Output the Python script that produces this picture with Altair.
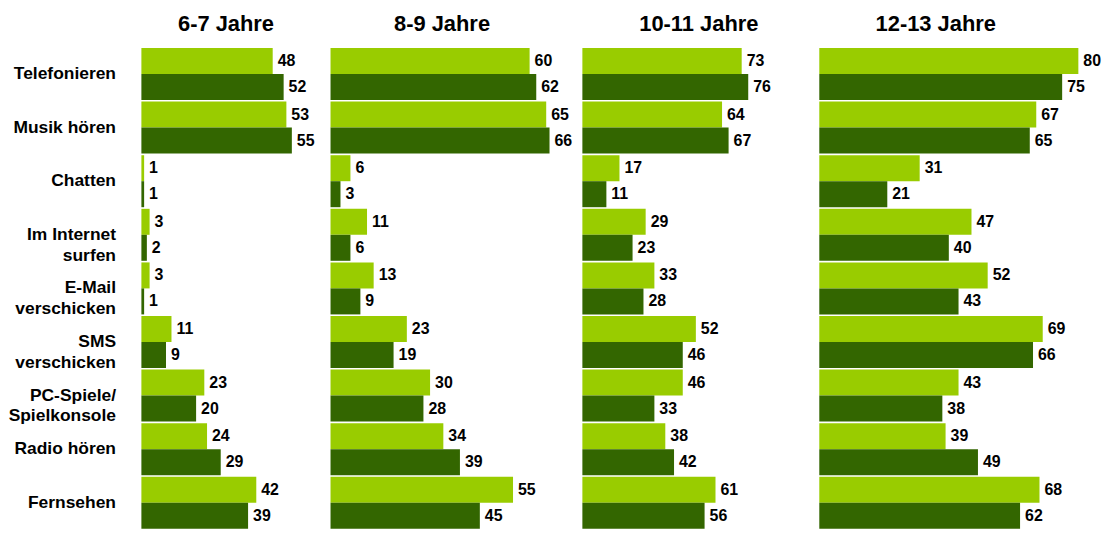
import altair as alt
import pandas as pd

categories = ["Telefonieren", "Musik hören", "Chatten", "Im Internet|surfen",
              "E-Mail|verschicken", "SMS|verschicken", "PC-Spiele/|Spielkonsole",
              "Radio hören", "Fernsehen"]
panels = ["6-7 Jahre", "8-9 Jahre", "10-11 Jahre", "12-13 Jahre"]
series = ["Serie 1", "Serie 2"]
colors = ["#99CC00", "#336600"]

light_6_7 = [48, 53, 1, 3, 3, 11, 23, 24, 42]
dark_6_7 = [52, 55, 1, 2, 1, 9, 20, 29, 39]
light_8_9 = [60, 65, 6, 11, 13, 23, 30, 34, 55]
dark_8_9 = [62, 66, 3, 6, 9, 19, 28, 39, 45]
light_10_11 = [73, 64, 17, 29, 33, 52, 46, 38, 61]
dark_10_11 = [76, 67, 11, 23, 28, 46, 33, 42, 56]
light_12_13 = [80, 67, 31, 47, 52, 69, 43, 39, 68]
dark_12_13 = [75, 65, 21, 40, 43, 66, 38, 49, 62]

panel_values = {
    "6-7 Jahre": (light_6_7, dark_6_7),
    "8-9 Jahre": (light_8_9, dark_8_9),
    "10-11 Jahre": (light_10_11, dark_10_11),
    "12-13 Jahre": (light_12_13, dark_12_13),
}

FONT = "Liberation Sans"
H = 483


def make_panel(name, width, dmax, dx, first):
    lv, dv = panel_values[name]
    rows = []
    for c, a, b in zip(categories, lv, dv):
        rows.append({"Kategorie": c, "Serie": series[0], "Wert": a})
        rows.append({"Kategorie": c, "Serie": series[1], "Wert": b})
    df = pd.DataFrame(rows)
    if first:
        yaxis = alt.Axis(
            title=None, ticks=False, domain=False, labelPadding=26,
            labelFont=FONT, labelFontSize=17.5, labelFontWeight="bold",
            labelColor="#000000", labelLineHeight=21,
            labelExpr="split(datum.label, '|')",
        )
    else:
        yaxis = None
    base = alt.Chart(df).encode(
        y=alt.Y("Kategorie:N", sort=categories,
                scale=alt.Scale(paddingInner=0.03, paddingOuter=0),
                axis=yaxis, title=None),
        yOffset=alt.YOffset("Serie:N", sort=series,
                            scale=alt.Scale(paddingInner=0, paddingOuter=0)),
        x=alt.X("Wert:Q", scale=alt.Scale(domain=[0, dmax], nice=False, zero=True),
                axis=None),
    )
    bars = base.mark_bar(strokeWidth=0).encode(
        color=alt.Color("Serie:N", scale=alt.Scale(domain=series, range=colors),
                        legend=None)
    )
    labels = base.mark_text(align="left", baseline="middle", dx=5, font=FONT,
                            fontSize=16, fontWeight="bold", color="#000000").encode(
        text="Wert:Q"
    )
    return alt.layer(bars, labels).properties(
        width=width, height=H,
        title=alt.TitleParams(name, dx=dx, font=FONT, fontSize=22,
                              fontWeight="bold", color="#000000", offset=12,
                              anchor="middle"),
    )


p1 = make_panel("6-7 Jahre", 180, 65.5, -5, True)
p2 = make_panel("8-9 Jahre", 240, 72, -8, False)
p3 = make_panel("10-11 Jahre", 228, 104, 3, False)
p4 = make_panel("12-13 Jahre", 270, 83, -18, False)

chart = alt.hconcat(p1, p2, p3, p4, spacing=10).properties(
    padding={"top": 4, "left": 0, "right": 0, "bottom": 0}
).configure(background="#ffffff").configure_view(strokeWidth=0, stroke="transparent")

chart.save("out.html", embed_options={"renderer": "svg", "actions": False})
